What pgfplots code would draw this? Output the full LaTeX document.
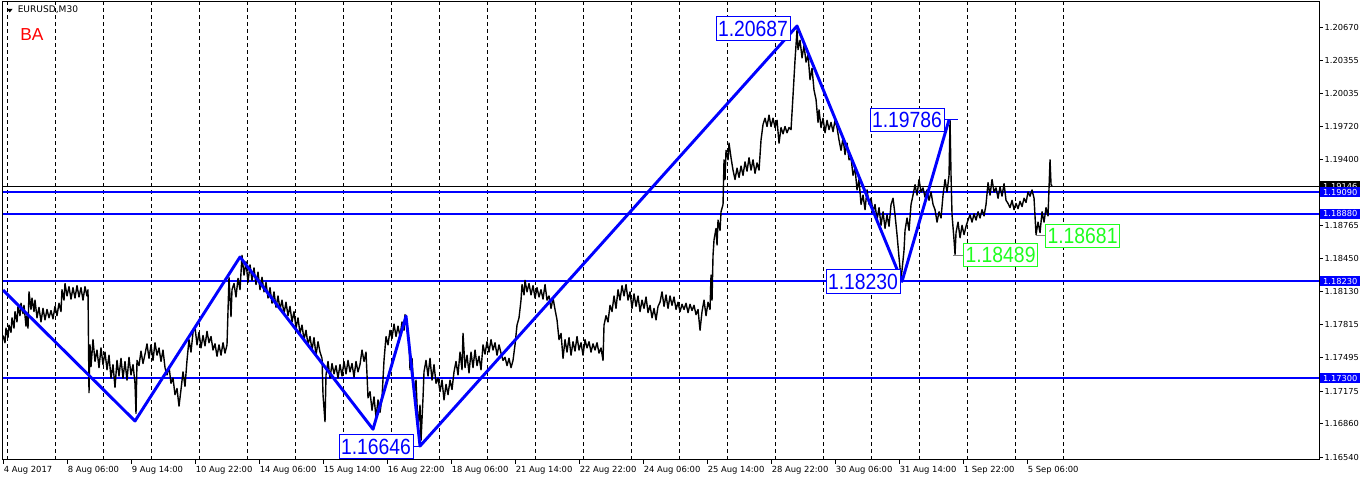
\documentclass[border=0pt]{standalone}
\usepackage{pgfplots}
\pgfplotsset{compat=1.18}
\usetikzlibrary{calc}
\usepackage{fontspec}
\setmainfont{DejaVu Sans}
\newfontfamily\arialf{Liberation Sans}

\definecolor{mtblue}{RGB}{0,0,255}
\definecolor{mtgreen}{RGB}{30,255,30}

\pgfplotstableread{
x y
3 1.1771
5 1.1764
6 1.1778
8 1.1769
9 1.1781
11 1.1774
12 1.1788
14 1.1778
15 1.1794
17 1.1784
18 1.1799
20 1.1790
21 1.1802
23 1.1792
24 1.1800
26 1.1780
27 1.1790
28 1.1778
29 1.1813
31 1.1796
32 1.1807
34 1.1794
35 1.1805
37 1.1788
39 1.1798
41 1.1784
43 1.1797
45 1.1786
47 1.1796
49 1.1788
51 1.1795
53 1.1787
55 1.1799
57 1.1790
59 1.1802
61 1.1794
62 1.1815
64 1.1805
65 1.1821
67 1.1809
69 1.1818
71 1.1806
73 1.1817
75 1.1807
77 1.1819
79 1.1808
81 1.1817
83 1.1805
85 1.1818
87 1.1809
88 1.1815
89 1.1716
90 1.1762
91 1.1741
93 1.1767
95 1.1746
97 1.1757
99 1.1740
101 1.1759
103 1.1743
105 1.1755
107 1.1738
109 1.1752
111 1.1730
113 1.1743
115 1.1721
117 1.1747
119 1.1732
121 1.1749
123 1.1730
125 1.1746
127 1.1728
129 1.1750
131 1.1733
133 1.1743
135 1.1725
136 1.1696
137 1.1747
139 1.1742
141 1.1756
143 1.1744
145 1.1753
147 1.1763
149 1.1749
151 1.1762
153 1.1747
155 1.1764
157 1.1752
159 1.1759
161 1.1746
163 1.1757
165 1.1740
167 1.1733
169 1.1741
171 1.1725
173 1.1730
175 1.1714
177 1.1720
179 1.1703
181 1.1719
183 1.1736
185 1.1722
187 1.1747
189 1.1767
191 1.1755
193 1.1774
195 1.1779
197 1.1762
199 1.1774
201 1.1759
203 1.1771
205 1.1761
207 1.1775
209 1.1764
211 1.1770
213 1.1757
215 1.1763
217 1.1751
219 1.1762
221 1.1752
223 1.1764
225 1.1754
227 1.1762
229 1.1827
231 1.1789
232 1.1815
234 1.1821
236 1.1808
238 1.1826
240 1.1815
242 1.1848
244 1.1829
246 1.1842
248 1.1822
250 1.1839
252 1.1824
254 1.1836
256 1.1820
258 1.1832
260 1.1815
262 1.1827
264 1.1813
266 1.1822
268 1.1807
270 1.1817
272 1.1802
274 1.1813
276 1.1798
278 1.1809
280 1.1796
282 1.1805
284 1.1792
286 1.1803
288 1.1790
290 1.1799
292 1.1784
294 1.1794
296 1.1778
298 1.1788
300 1.1773
302 1.1781
304 1.1767
306 1.1776
308 1.1762
310 1.1770
312 1.1757
314 1.1769
316 1.1752
318 1.1765
320 1.1755
322 1.1749
323 1.1714
325 1.1688
326 1.1733
328 1.1746
330 1.1730
332 1.1744
334 1.1734
336 1.1742
338 1.1730
340 1.1743
342 1.1732
344 1.1746
346 1.1734
348 1.1747
350 1.1736
352 1.1744
354 1.1731
356 1.1746
358 1.1736
360 1.1743
362 1.1757
364 1.1746
366 1.1755
368 1.1711
370 1.1717
372 1.1699
374 1.1712
376 1.1692
378 1.1709
380 1.1697
382 1.1711
384 1.1747
386 1.1770
388 1.1762
390 1.1776
392 1.1768
394 1.1782
396 1.1770
398 1.1780
400 1.1770
402 1.1784
404 1.1776
405 1.1791
407 1.1778
409 1.1765
410 1.1738
412 1.1749
414 1.1714
416 1.1728
418 1.1682
420 1.1704
421 1.1670
423 1.1711
424 1.1736
426 1.1747
428 1.1732
430 1.1749
432 1.1728
434 1.1743
436 1.1725
438 1.1730
440 1.1717
442 1.1728
444 1.1709
446 1.1724
448 1.1714
450 1.1728
452 1.1719
454 1.1736
456 1.1746
458 1.1733
460 1.1755
462 1.1738
463 1.1773
465 1.1740
467 1.1752
469 1.1735
471 1.1755
473 1.1740
475 1.1757
477 1.1742
479 1.1751
481 1.1738
483 1.1762
485 1.1753
487 1.1765
489 1.1755
491 1.1767
493 1.1757
495 1.1764
497 1.1752
499 1.1762
501 1.1754
503 1.1747
505 1.1750
507 1.1742
509 1.1749
511 1.1740
513 1.1747
515 1.1762
517 1.1781
519 1.1788
521 1.1805
522 1.1820
524 1.1810
525 1.1824
527 1.1813
529 1.1821
531 1.1810
533 1.1819
535 1.1807
537 1.1817
539 1.1808
541 1.1815
543 1.1806
545 1.1820
547 1.1805
549 1.1809
551 1.1797
553 1.1807
555 1.1796
557 1.1786
559 1.1767
561 1.1773
563 1.1749
565 1.1767
567 1.1755
569 1.1769
571 1.1752
573 1.1765
575 1.1756
577 1.1770
579 1.1757
581 1.1764
583 1.1752
585 1.1767
587 1.1759
589 1.1765
591 1.1755
593 1.1763
595 1.1757
597 1.1764
599 1.1754
601 1.1759
603 1.1747
604 1.1781
606 1.1790
608 1.1784
610 1.1800
612 1.1794
614 1.1809
616 1.1797
618 1.1815
620 1.1805
622 1.1819
624 1.1809
626 1.1820
628 1.1805
630 1.1813
632 1.1797
634 1.1811
636 1.1799
638 1.1809
640 1.1794
642 1.1805
644 1.1797
646 1.1808
648 1.1793
650 1.1800
652 1.1788
654 1.1797
656 1.1786
658 1.1799
660 1.1803
662 1.1813
664 1.1799
666 1.1810
668 1.1797
670 1.1809
672 1.1800
674 1.1808
676 1.1796
678 1.1803
680 1.1794
682 1.1801
684 1.1796
686 1.1802
688 1.1793
690 1.1801
692 1.1795
694 1.1800
696 1.1791
698 1.1796
700 1.1776
702 1.1794
704 1.1805
706 1.1790
708 1.1803
710 1.1796
711 1.1829
712 1.1805
713 1.1848
714 1.1863
716 1.1874
717 1.1858
718 1.1882
720 1.1872
721 1.1890
723 1.1897
724 1.1940
725 1.1921
726 1.1949
728 1.1940
729 1.1956
731 1.1942
733 1.1930
735 1.1921
737 1.1932
739 1.1923
741 1.1934
743 1.1925
745 1.1938
747 1.1929
749 1.1942
751 1.1930
753 1.1940
755 1.1927
757 1.1937
759 1.1930
761 1.1959
763 1.1974
765 1.1980
767 1.1972
769 1.1983
771 1.1972
773 1.1980
775 1.1971
777 1.1978
779 1.1956
781 1.1971
783 1.1965
785 1.1972
787 1.1966
789 1.1971
791 1.1969
793 1.2002
795 1.2036
797 1.2065
798 1.2046
800 1.2055
802 1.2038
804 1.2050
806 1.2034
808 1.2041
810 1.2017
812 1.2028
814 1.2007
816 1.1998
818 1.1976
819 1.1988
821 1.1971
823 1.1980
825 1.1966
827 1.1978
829 1.1969
831 1.1976
833 1.1967
835 1.1978
837 1.1971
839 1.1959
841 1.1949
843 1.1961
845 1.1945
847 1.1956
849 1.1940
851 1.1942
853 1.1925
855 1.1932
857 1.1911
859 1.1921
861 1.1897
863 1.1906
865 1.1892
867 1.1911
869 1.1897
871 1.1903
873 1.1890
875 1.1897
877 1.1882
879 1.1894
881 1.1877
883 1.1890
885 1.1874
887 1.1887
889 1.1876
891 1.1897
893 1.1903
895 1.1887
897 1.1868
899 1.1846
901 1.1826
902 1.1834
904 1.1853
905 1.1872
907 1.1884
909 1.1872
911 1.1897
913 1.1906
915 1.1916
917 1.1906
919 1.1921
921 1.1909
923 1.1913
925 1.1904
927 1.1911
929 1.1901
931 1.1909
933 1.1897
935 1.1892
937 1.1880
939 1.1890
941 1.1884
943 1.1906
945 1.1921
947 1.1909
949 1.1925
950 1.1978
951 1.1925
952 1.1887
954 1.1863
955 1.1849
956 1.1870
958 1.1880
960 1.1865
962 1.1877
964 1.1868
966 1.1876
968 1.1882
970 1.1887
972 1.1880
974 1.1888
976 1.1882
978 1.1890
980 1.1884
982 1.1892
984 1.1886
986 1.1897
988 1.1918
990 1.1906
992 1.1921
994 1.1909
996 1.1913
998 1.1903
1000 1.1914
1002 1.1905
1004 1.1917
1006 1.1901
1008 1.1898
1010 1.1894
1012 1.1901
1014 1.1892
1016 1.1898
1018 1.1893
1020 1.1900
1022 1.1895
1024 1.1903
1026 1.1899
1028 1.1909
1030 1.1905
1032 1.1911
1034 1.1903
1036 1.1868
1038 1.1880
1040 1.1870
1042 1.1890
1044 1.1880
1046 1.1894
1048 1.1886
1050 1.1940
1051 1.1916
1052 1.1915
}\pricedata

\pgfplotstableread{
x y
3 1.18147
135 1.16887
240 1.18465
373 1.16808
406 1.17897
420 1.16646
797 1.20687
902 1.18230
949 1.19786
}\zigzag

\tikzset{
  lbl/.style={draw, fill=white, line width=0.75pt, inner sep=0pt,
    minimum width=55.5pt, minimum height=17.5pt,
    font=\arialf\fontsize{16.5}{16.5}\selectfont},
  rlbl/.style={anchor=west, inner sep=0pt, minimum width=30pt, minimum height=7.5pt,
    text=white, font=\fontsize{6.2}{6.2}\selectfont, xshift=0.75pt}
}
\newcommand{\lt}[1]{\scalebox{0.88}[1]{#1}}

\begin{document}
\begin{tikzpicture}[x=0.75pt,y=0.75pt]
\begin{axis}[
  scale only axis, width=987.4pt, height=343.5pt,
  xmin=2.5, xmax=1319, ymin=1.16512, ymax=1.20918,
  clip mode=individual,
  axis line style={line width=0.75pt},
  tick align=outside, major tick length=3pt,
  every tick/.style={black, line width=0.75pt},
  xtick pos=left, ytick pos=right,
  xtick={3.5,67.5,131.5,195.5,259.5,323.5,387.5,451.5,515.5,579.5,643.5,707.5,771.5,835.5,899.5,963.5,1027.5},
  xticklabels={4 Aug 2017,8 Aug 06:00,9 Aug 14:00,10 Aug 22:00,14 Aug 06:00,15 Aug 14:00,16 Aug 22:00,18 Aug 06:00,21 Aug 14:00,22 Aug 22:00,24 Aug 06:00,25 Aug 14:00,28 Aug 22:00,30 Aug 06:00,31 Aug 14:00,1 Sep 22:00,5 Sep 06:00},
  x tick label style={anchor=north west, inner sep=0pt, font=\fontsize{6.3}{6.3}\selectfont, xshift=0pt, yshift=-1.5pt},
  ytick={1.16540,1.16860,1.17175,1.17495,1.17815,1.18130,1.18450,1.18765,1.19400,1.19720,1.20035,1.20355,1.20670},
  yticklabels={1.16540,1.16860,1.17175,1.17495,1.17815,1.18130,1.18450,1.18765,1.19400,1.19720,1.20035,1.20355,1.20670},
  y tick label style={anchor=west, inner sep=0pt, font=\fontsize{6.2}{6.2}\selectfont, xshift=1pt},
  extra x ticks={7,55,103,151,199,247,295,343,391,439,487,535,583,631,679,727,775,823,871,919,967,1015,1063},
  extra x tick labels={},
  extra x tick style={grid=major, major tick length=0pt,
    major grid style={black, line width=0.75pt, dash pattern=on 3pt off 2.25pt}},
]
\coordinate (O) at (rel axis cs:0,0);
% horizontal levels
\addplot[black, line width=0.6pt] coordinates {(2.5,1.19146) (1319,1.19146)};
\addplot[mtblue, line width=1.5pt] coordinates {(2.5,1.19090) (1319,1.19090)};
\addplot[mtblue, line width=1.5pt] coordinates {(2.5,1.18880) (1319,1.18880)};
\addplot[mtblue, line width=1.5pt] coordinates {(2.5,1.18230) (1319,1.18230)};
\addplot[mtblue, line width=1.5pt] coordinates {(2.5,1.17300) (1319,1.17300)};
% price
\addplot[black, line width=1.05pt, line join=round] table[x=x, y=y] {\pricedata};
% zigzag
\addplot[mtblue, line width=2.2pt, line join=round] table[x=x, y=y] {\zigzag};

% connectors
\draw[mtblue, line width=0.75pt] (axis cs:944,1.19783) -- (axis cs:958,1.19783);
\draw[mtblue, line width=0.75pt] (axis cs:412,1.16646) -- (axis cs:420,1.16646);
\draw[gray, line width=0.75pt] (axis cs:953,1.18484) -- (axis cs:964,1.18484);
\draw[gray, line width=0.75pt] (axis cs:1036,1.18667) -- (axis cs:1048,1.18667);

% value labels
\node[lbl, draw=mtblue, text=mtblue] at (axis cs:753,1.20663) {\lt{1.20687}};
\node[lbl, draw=mtblue, text=mtblue] at (axis cs:907,1.19783) {\lt{1.19786}};
\node[lbl, draw=mtblue, text=mtblue] at (axis cs:863,1.18229) {\lt{1.18230}};
\node[lbl, draw=mtblue, text=mtblue] at (axis cs:376,1.16642) {\lt{1.16646}};
\node[lbl, draw=mtgreen, text=mtgreen] at (axis cs:1000.5,1.18484) {\lt{1.18489}};
\node[lbl, draw=mtgreen, text=mtgreen] at (axis cs:1082.5,1.18667) {\lt{1.18681}};

% right price marks
\node[rlbl, fill=black] at (axis cs:1319,1.19146) {1.19146};
\node[rlbl, fill=mtblue] at (axis cs:1319,1.19090) {1.19090};
\node[rlbl, fill=mtblue] at (axis cs:1319,1.18880) {1.18880};
\node[rlbl, fill=mtblue] at (axis cs:1319,1.18230) {1.18230};
\node[rlbl, fill=mtblue] at (axis cs:1319,1.17300) {1.17300};
\end{axis}

\pgfresetboundingbox
\begin{scope}[shift={(O)}]
% header (offsets in pixels from the lower left axis corner)
\fill (4.5,451) -- (10,451) -- (7.25,447.5) -- cycle;
\node[anchor=west, inner sep=0pt, font=\fontsize{6.8}{6.8}\selectfont] at (15,450) {EURUSD,M30};
\node[anchor=west, inner sep=0pt, text=red, font=\arialf\fontsize{13}{13}\selectfont] at (17.5,425) {BA};
\path[use as bounding box] (-2.5,-21) rectangle (1359.5,460);
\end{scope}
\end{tikzpicture}
\end{document}
